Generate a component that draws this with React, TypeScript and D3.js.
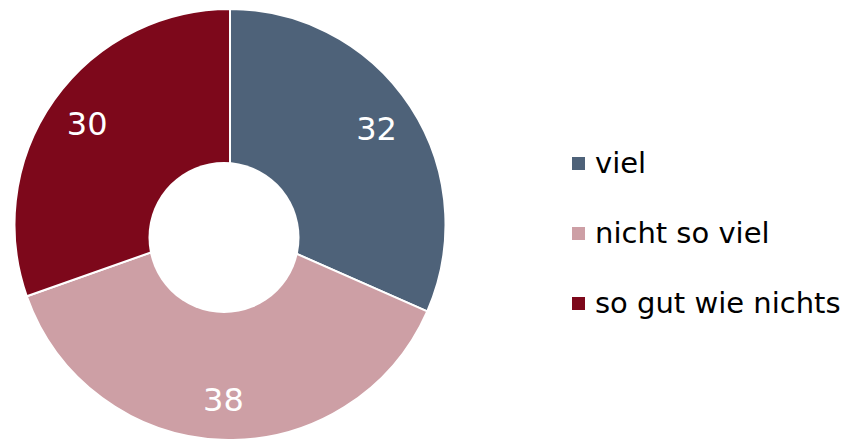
import React, { useEffect, useRef } from 'react';
import * as d3 from 'd3';

const categories = ['viel', 'nicht so viel', 'so gut wie nichts'];
const values = [31.6, 38.0, 30.4];
const colors = ['#4e6279', '#cd9fa5', '#7d081b'];

const App: React.FC = () => {
  const ref = useRef<SVGSVGElement | null>(null);

  useEffect(() => {
    const svg = d3.select(ref.current);
    svg.selectAll('*').remove();

    const width = 848;
    const height = 439;
    const cx = 230;
    const cy = 224.5;
    const outerR = 215.5;
    const labelR = 175;
    const font = 'Verdana, "DejaVu Sans", sans-serif';

    svg.attr('width', width).attr('height', height);

    const pie = d3
      .pie<number>()
      .sort(null)
      .value((d) => d);
    const arcs = pie(values);

    const arc = d3.arc<d3.PieArcDatum<number>>().innerRadius(0).outerRadius(outerR);
    const labelArc = d3.arc<d3.PieArcDatum<number>>().innerRadius(labelR).outerRadius(labelR);

    const g = svg.append('g').attr('transform', `translate(${cx},${cy})`);

    g.selectAll('path')
      .data(arcs)
      .enter()
      .append('path')
      .attr('d', arc)
      .attr('fill', (_d, i) => colors[i])
      .attr('stroke', '#ffffff')
      .attr('stroke-width', 2)
      .attr('stroke-linejoin', 'round');

    // white hole (sits a little off the pie centre, as in the source)
    svg
      .append('circle')
      .attr('cx', 224)
      .attr('cy', 237.5)
      .attr('r', 75.5)
      .attr('fill', '#ffffff');

    g.selectAll('text.val')
      .data(arcs)
      .enter()
      .append('text')
      .attr('class', 'val')
      .attr('x', (d) => labelArc.centroid(d)[0])
      .attr('y', (d) => labelArc.centroid(d)[1])
      .attr('dy', '0.36em')
      .attr('text-anchor', 'middle')
      .attr('fill', '#ffffff')
      .style('font-family', font)
      .style('font-size', '32px')
      .text((d) => Math.round(d.data));

    // Legend
    const legendY = d3.scalePoint<string>().domain(categories).range([173, 313]);
    const legend = svg
      .selectAll('g.legend')
      .data(categories)
      .enter()
      .append('g')
      .attr('class', 'legend')
      .attr('transform', (d) => `translate(572,${legendY(d)})`);

    legend
      .append('rect')
      .attr('x', 0)
      .attr('y', -16)
      .attr('width', 13)
      .attr('height', 13)
      .attr('fill', (_d, i) => colors[i]);

    legend
      .append('text')
      .attr('x', 23)
      .attr('y', 0)
      .attr('fill', '#000000')
      .style('font-family', font)
      .style('font-size', '29px')
      .text((d) => d);
  }, []);

  return (
    <div style={{ position: 'absolute', left: 0, top: 0 }}>
      <svg ref={ref}></svg>
    </div>
  );
};

export default App;
